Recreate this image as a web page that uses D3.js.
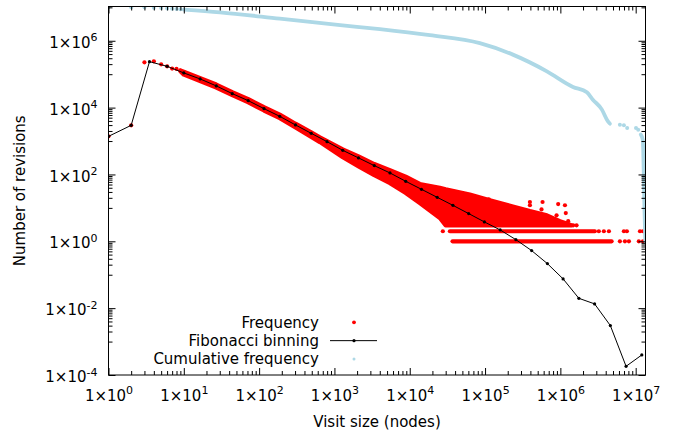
<!DOCTYPE html>
<html>
<head>
<meta charset="utf-8">
<script src="https://cdn.jsdelivr.net/npm/d3@7/dist/d3.min.js"></script>
<style>
body { margin: 0; background: #fff; }
#chart svg { display: block; }
</style>
</head>
<body>
<div id="chart"></div>
<script>
// Fibonacci binning: bin centres and mean counts
var fibX = [1, 2, 3.5, 6, 10, 16.5, 27, 44, 71.5, 116, 188, 304, 492, 797, 1290, 2087, 3378, 5465, 8843, 14308,
            23150, 37458, 60608, 98066, 158675, 256742, 415418, 672161, 1087580, 1759742, 2847322, 4607065, 7454388, 12061454];
var fibY = [1380, 2950, 2.37e5, 1.72e5, 1.09e5, 7.2e4, 4.46e4, 2.62e4, 1.62e4, 9330, 5480, 3030, 1700, 959, 527, 313, 184, 111, 62.4, 36.0,
            20.7, 11.9, 6.75, 3.80, 2.19, 1.12, 0.527, 0.215, 0.075, 0.0197, 0.0134, 0.00302, 0.000182, 0.000398];

// Frequency: single visible points at small sizes
var freqX = [1, 2, 3, 4, 5, 6, 7, 8, 9, 10, 11, 12];
var freqY = [1380, 2950, 2.26e5, 2.43e5, 1.97e5, 1.72e5, 1.47e5, 1.44e5, 1.28e5, 1.15e5, 1.05e5, 9.6e4];

// Frequency: dense band of points (upper / lower envelope)
var bandX    = [9, 10, 27, 44, 72, 116, 188, 304, 492, 641, 797, 1290, 2090, 3380, 5460, 8840, 13600, 25100, 30000, 62800,
                1.16e5, 2.34e5, 3.94e5, 6.62e5, 9.86e5, 1.22e6, 1.42e6];
var bandHigh = [1.30e5, 1.19e5, 4.9e4, 2.9e4, 1.8e4, 1.03e4, 6200, 3300, 1830, 1300, 1000, 560, 345, 205, 135, 86, 52, 40, 36, 25,
                17, 11, 8, 6, 4, 3.4, 3];
var bandLow  = [1.22e5, 9.7e4, 4.0e4, 2.36e4, 1.43e4, 8200, 4840, 2550, 1330, 930, 680, 330, 175, 95, 55, 28, 14, 5, 3, 3,
                3, 3, 3, 3, 3, 3, 3];

// Frequency: scattered points above the band
var outX = [8.8e4, 1.12e5, 3.94e5, 3.94e5, 5.8e5, 5.62e5, 9.35e5, 8.9e5, 1.15e6, 1.18e6, 1.27e6, 1.48e6, 1.64e6];
var outY = [17, 18, 15, 12, 15, 9, 13, 6, 12, 7, 4, 3, 3];

// Frequency: rows of counts 2 and 1 (continuous runs + isolated points)
var rowLevels = [2, 1];
var rowStarts = [3.41e4, 3.7e4];
var rowEnds   = [2.87e6, 4.79e6];
var rowTwoDots = [2.75e4, 3.24e6, 3.78e6, 4.41e6, 6.97e6, 7.64e6, 1.14e7, 1.25e7];
var rowOneDots = [6.17e6, 7.2e6, 8.13e6, 1.1e7, 1.25e7, 1.35e7];

// Cumulative frequency
var cumDotX = [1, 2, 3, 4, 5, 6, 7, 8, 9, 6.17e6, 6.97e6, 7.71e6, 1.01e7, 1.08e7];
var cumDotY = [1.01e7, 1.01e7, 1.007e7, 9.79e6, 9.53e6, 9.27e6, 9.07e6, 8.89e6, 8.71e6, 3090, 2950, 2470, 2470, 2190];
var cumLineX = [10, 30.3, 188, 1190, 4010, 1.85e4, 8.53e4, 2.34e5, 6.62e5, 1.47e6, 2.25e6, 2.7e6, 3.56e6, 4.15e6, 4.54e6];
var cumLineY = [8.53e6, 7.08e6, 4.59e6, 2.93e6, 2.23e6, 1.47e6, 8.5e5, 3.85e5, 1.22e5, 4.16e4, 2.86e4, 1.73e4, 8710, 4370, 3310];
var cumTailX = [1.17e7, 1.24e7, 1.26e7, 1.3e7, 1.34e7];
var cumTailY = [1560, 1100, 550, 18, 1];

// axes
var xTickExps = [0, 1, 2, 3, 4, 5, 6, 7];
var yTickExps = [-4, -2, 0, 2, 4, 6];
var xDomain = [1, 1.35e7];
var yDomain = [1e-4, 1.06e7];
var xTitle = "Visit size (nodes)";
var yTitle = "Number of revisions";
var legendLabels = ["Frequency", "Fibonacci binning", "Cumulative frequency"];

var svgWidth = 686, svgHeight = 436;
var margin = { top: 6.5, right: 40.5, bottom: 61, left: 108.5 };
var width = svgWidth - margin.left - margin.right;
var height = svgHeight - margin.top - margin.bottom;
var red = "#ff0000", blue = "#add8e6";
var dotR = 2.1;

var svg = d3.select("#chart").append("svg")
    .attr("width", svgWidth)
    .attr("height", svgHeight)
    .style("font-family", "'DejaVu Sans', sans-serif")
    .style("font-size", "15px");

var g = svg.append("g")
    .attr("transform", "translate(" + margin.left + "," + margin.top + ")");

var x = d3.scaleLog().domain(xDomain).range([0, width]);
var y = d3.scaleLog().domain(yDomain).range([height, 0]);

g.append("clipPath").attr("id", "plotClip")
    .append("rect").attr("width", width).attr("height", height);

var plot = g.append("g").attr("clip-path", "url(#plotClip)");

// --- Frequency (red) ---
var band = bandX.map(function(d, i) { return { x: d, lo: bandLow[i], hi: bandHigh[i] }; });
plot.append("path")
    .datum(band)
    .attr("fill", red)
    .attr("stroke", red)
    .attr("stroke-width", dotR * 2)
    .attr("stroke-linejoin", "round")
    .attr("d", d3.area()
        .x(function(d) { return x(d.x); })
        .y0(function(d) { return y(d.lo); })
        .y1(function(d) { return y(d.hi); }));

rowLevels.forEach(function(level, i) {
    plot.append("line")
        .attr("x1", x(rowStarts[i])).attr("x2", x(rowEnds[i]))
        .attr("y1", y(level)).attr("y2", y(level))
        .attr("stroke", red)
        .attr("stroke-width", dotR * 2)
        .attr("stroke-linecap", "round");
});

var redPoints = [];
freqX.forEach(function(d, i) { redPoints.push([d, freqY[i]]); });
outX.forEach(function(d, i) { redPoints.push([d, outY[i]]); });
rowTwoDots.forEach(function(d) { redPoints.push([d, 2]); });
rowOneDots.forEach(function(d) { redPoints.push([d, 1]); });

plot.selectAll(".freqDot")
    .data(redPoints)
    .enter().append("circle")
    .attr("class", "freqDot")
    .attr("cx", function(d) { return x(d[0]); })
    .attr("cy", function(d) { return y(d[1]); })
    .attr("r", dotR)
    .attr("fill", red);

// --- Fibonacci binning (black) ---
var fib = fibX.map(function(d, i) { return [d, fibY[i]]; });
plot.append("path")
    .datum(fib)
    .attr("fill", "none")
    .attr("stroke", "black")
    .attr("stroke-width", 1)
    .attr("d", d3.line()
        .x(function(d) { return x(d[0]); })
        .y(function(d) { return y(d[1]); }));

plot.selectAll(".fibDot")
    .data(fib)
    .enter().append("circle")
    .attr("class", "fibDot")
    .attr("cx", function(d) { return x(d[0]); })
    .attr("cy", function(d) { return y(d[1]); })
    .attr("r", 1.6)
    .attr("fill", "black");

// --- Cumulative frequency (light blue) ---
var cumLine = d3.line()
    .curve(d3.curveMonotoneX)
    .x(function(d) { return x(d[0]); })
    .y(function(d) { return y(d[1]); });

[[cumLineX, cumLineY], [cumTailX, cumTailY]].forEach(function(s) {
    plot.append("path")
        .datum(s[0].map(function(d, i) { return [d, s[1][i]]; }))
        .attr("fill", "none")
        .attr("stroke", blue)
        .attr("stroke-width", 3.8)
        .attr("stroke-linecap", "round")
        .attr("stroke-linejoin", "round")
        .attr("d", cumLine);
});

plot.selectAll(".cumDot")
    .data(cumDotX.map(function(d, i) { return [d, cumDotY[i]]; }))
    .enter().append("circle")
    .attr("class", "cumDot")
    .attr("cx", function(d) { return x(d[0]); })
    .attr("cy", function(d) { return y(d[1]); })
    .attr("r", 2)
    .attr("fill", blue);

// --- Axes ---
var xMajor = xTickExps.map(function(e) { return Math.pow(10, e); });
var xMinor = [];
xTickExps.forEach(function(e) {
    for (var k = 2; k <= 9; k++) {
        var v = k * Math.pow(10, e);
        if (v <= xDomain[1]) xMinor.push(v);
    }
});
var yMajor = yTickExps.map(function(e) { return Math.pow(10, e); });
var yMinor = [];
yTickExps.forEach(function(e) {
    for (var k = 1; k <= 9; k++) {
        var v = k * Math.pow(10, e + 1);
        if (v <= yDomain[1]) yMinor.push(v);
    }
});

function powerLabel(sel) {
    sel.each(function(d) {
        var t = d3.select(this);
        var e = Math.round(Math.log10(d));
        t.text(null);
        t.append("tspan").text("1\u00d710");
        t.append("tspan").attr("dy", -6.6).attr("font-size", "11px").text(e);
    });
}

function styleAxis(sel) {
    sel.attr("font-family", null).attr("font-size", null);
    sel.select(".domain").remove();
    sel.selectAll("line").attr("stroke", "black");
}

var xAxisGroup = g.append("g")
    .attr("transform", "translate(0," + height + ")")
    .call(d3.axisBottom(x).tickValues(xMajor).tickSize(-7).tickPadding(15))
    .call(styleAxis);
xAxisGroup.selectAll(".tick text").attr("fill", "black").call(powerLabel);

g.append("g").attr("transform", "translate(0," + height + ")")
    .call(d3.axisBottom(x).tickValues(xMinor).tickSize(-4).tickFormat(""))
    .call(styleAxis);
g.append("g")
    .call(d3.axisTop(x).tickValues(xMajor).tickSize(-7).tickFormat(""))
    .call(styleAxis);
g.append("g")
    .call(d3.axisTop(x).tickValues(xMinor).tickSize(-4).tickFormat(""))
    .call(styleAxis);

var yAxisGroup = g.append("g")
    .call(d3.axisLeft(y).tickValues(yMajor).tickSize(-7).tickPadding(11))
    .call(styleAxis);
yAxisGroup.selectAll(".tick text").attr("fill", "black").attr("dy", "0.44em").call(powerLabel);

g.append("g")
    .call(d3.axisLeft(y).tickValues(yMinor).tickSize(-4).tickFormat(""))
    .call(styleAxis);
g.append("g").attr("transform", "translate(" + width + ",0)")
    .call(d3.axisRight(y).tickValues(yMajor).tickSize(-7).tickFormat(""))
    .call(styleAxis);
g.append("g").attr("transform", "translate(" + width + ",0)")
    .call(d3.axisRight(y).tickValues(yMinor).tickSize(-4).tickFormat(""))
    .call(styleAxis);

g.append("rect")
    .attr("width", width)
    .attr("height", height)
    .attr("fill", "none")
    .attr("stroke", "black")
    .attr("stroke-width", 1);

// titles
svg.append("text")
    .attr("x", margin.left + width / 2)
    .attr("y", 426.5)
    .attr("text-anchor", "middle")
    .text(xTitle);

svg.append("text")
    .attr("transform", "translate(25," + (margin.top + height / 2) + ") rotate(-90)")
    .attr("text-anchor", "middle")
    .text(yTitle);

// legend
var legend = svg.append("g").attr("transform", "translate(319,322.3)");
var rowGap = 18.35;
legendLabels.forEach(function(label, i) {
    legend.append("text")
        .attr("x", 0)
        .attr("y", i * rowGap + 5.5)
        .attr("text-anchor", "end")
        .text(label);
});
legend.append("circle").attr("cx", 35).attr("cy", 0).attr("r", 1.9).attr("fill", red);
legend.append("line")
    .attr("x1", 11).attr("x2", 58)
    .attr("y1", rowGap).attr("y2", rowGap)
    .attr("stroke", "black");
legend.append("circle").attr("cx", 35).attr("cy", rowGap).attr("r", 1.6).attr("fill", "black");
legend.append("circle").attr("cx", 35).attr("cy", rowGap * 2).attr("r", 1.5).attr("fill", blue);
</script>
</body>
</html>
